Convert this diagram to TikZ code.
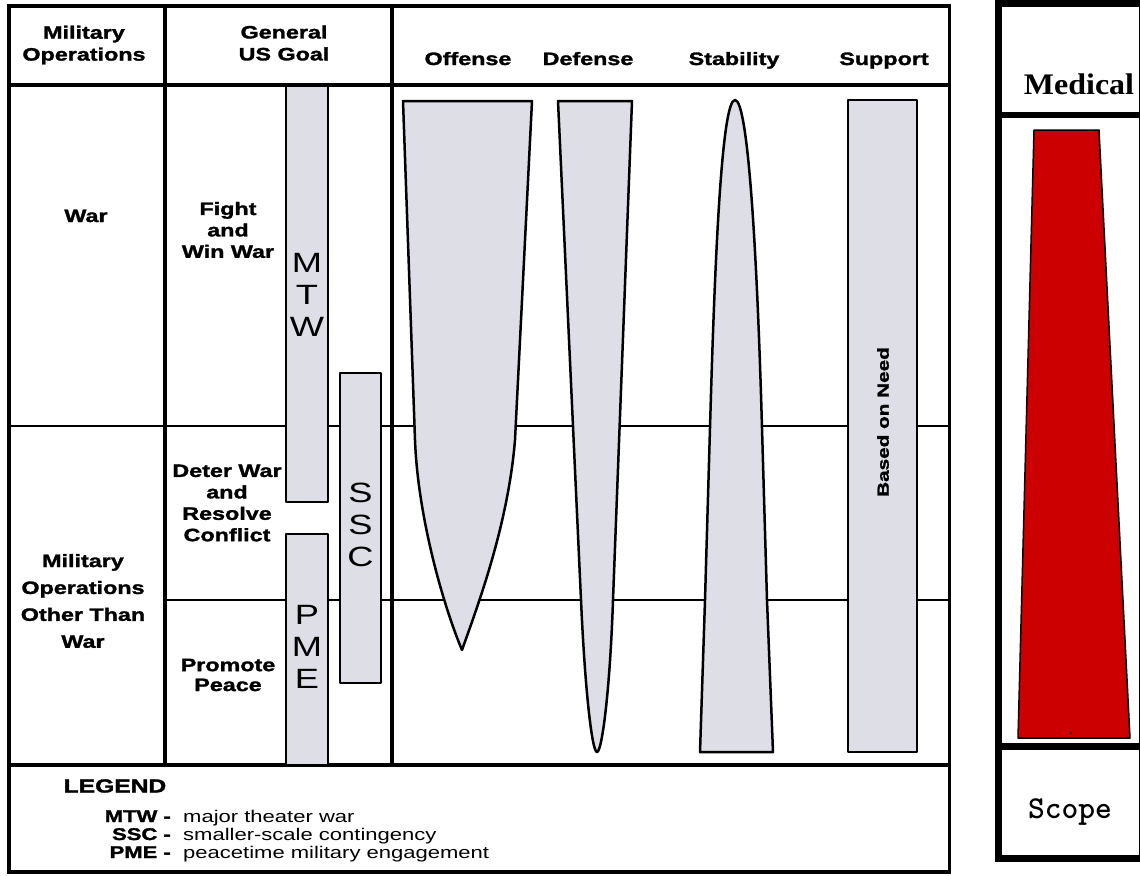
\documentclass[tikz,border=0pt]{standalone}
\usepackage{fontspec}
\newfontfamily\hv[FakeStretch=1.3, BoldFeatures={FakeBold=1.6}]{Liberation Sans}
\newfontfamily\tmfnt[FakeStretch=1.07]{Liberation Serif}
\definecolor{boxgray}{RGB}{221,222,230}
\definecolor{medred}{RGB}{204,0,0}
\begin{document}
\begin{tikzpicture}[x=1bp,y=-1bp,
  outerframe/.style={line width=3.5bp},
  gridline/.style={line width=2bp},
  thickrule/.style={line width=7bp},
  grayshape/.style={fill=boxgray, draw=black, line width=2.5bp, line join=round},
  lbl/.style={font=\hv\bfseries\fontsize{18}{21.5}\selectfont, align=center, inner sep=0pt},
  hdr/.style={font=\hv\bfseries\fontsize{18}{22}\selectfont, align=center, inner sep=0pt},
  letters/.style={font=\hv\fontsize{28}{32}\selectfont, align=center, inner sep=0pt},
  legkey/.style={font=\hv\bfseries\fontsize{17}{18}\selectfont, inner sep=0pt, anchor=base east},
  legtxt/.style={font=\hv\fontsize{17}{18}\selectfont, inner sep=0pt, anchor=base west}
]
\useasboundingbox (0,0) rectangle (1140,876);
\fill[white] (0,0) rectangle (1140,876);

% ---------- left chart: horizontal grid lines ----------
\draw[gridline] (9,426) -- (949,426);
\draw[gridline] (165,600) -- (949,600);

% ---------- frame and dividers ----------
\draw[outerframe] (9,6) rectangle (949.5,872);
\draw[outerframe] (9,85) -- (949.5,85);
\draw[outerframe] (9,765) -- (949.5,765);
\draw[outerframe] (165,6) -- (165,765);
\draw[line width=4.5bp] (392,6) -- (392,765);

% ---------- goal bars ----------
\draw[grayshape] (286,86) rectangle (328,502);
\draw[grayshape] (340,373) rectangle (381,683);
\draw[grayshape] (286,534) rectangle (328,765);

% ---------- operation shapes ----------
% Offense
\draw[grayshape] (403,101) -- (532,101) -- (515,440)
  .. controls (508,525) and (478,605) .. (462,650)
  .. controls (445,610) and (418,520) .. (415,440) -- cycle;
% Defense
\draw[grayshape] (558,101) -- (632,101) -- (613,600)
  .. controls (610,690) and (602,752) .. (597,752)
  .. controls (592,752) and (585,690) .. (581,600) -- cycle;
% Stability
\draw[grayshape] (700,752) -- (705,600) -- (710,428)
  .. controls (715,250) and (722,100) .. (735,100)
  .. controls (748,100) and (757,250) .. (762,428)
  -- (767,600) -- (773,752) -- cycle;
% Support
\draw[grayshape] (848,100) rectangle (917,752);

% ---------- texts ----------
\node[hdr] (hmo) at (84,45) {Military\\Operations};
\node[hdr] (hgoal) at (284,43) {General\\US Goal};
\node[lbl, anchor=base] (hoff) at (468,65) {Offense};
\node[lbl, anchor=base] (hdef) at (588,65) {Defense};
\node[lbl, anchor=base] (hstab) at (734,65) {Stability};
\node[lbl, anchor=base] (hsup) at (884,65) {Support};

\node[lbl, anchor=base] (war) at (86,222) {War};
\node[lbl, font=\hv\bfseries\fontsize{18}{27}\selectfont] (mootw) at (83,601) {Military\\Operations\\Other Than\\War};
\node[lbl] (fight) at (228,230) {Fight\\and\\Win War};
\node[lbl] (deter) at (227,503) {Deter War\\and\\Resolve\\Conflict};
\node[lbl, font=\hv\bfseries\fontsize{18}{20}\selectfont] (promote) at (228,675) {Promote\\Peace};

\node[letters] (mtw) at (307,295) {M\\T\\W};
\node[letters] (ssc) at (360.5,525) {S\\S\\C};
\node[letters] (pme) at (307,647) {P\\M\\E};

\node[lbl, font=\hv\bfseries\fontsize{16}{18}\selectfont, rotate=90] (need) at (883,422) {Based on Need};

% ---------- legend ----------
\node[lbl, font=\hv\bfseries\fontsize{19}{20}\selectfont] (legend) at (115,786) {LEGEND};
\node[legkey] (kmtw) at (171,822) {MTW -};
\node[legtxt] (dmtw) at (183,822) {major theater war};
\node[legkey] (kssc) at (171,840) {SSC -};
\node[legtxt] (dssc) at (183,840) {smaller-scale contingency};
\node[legkey] (kpme) at (171,858) {PME -};
\node[legtxt] (dpme) at (183,858) {peacetime military engagement};

% ---------- right panel ----------
\draw[fill=medred, draw=black, line width=1.5bp, line join=round]
  (1034,130) -- (1099,130) -- (1130,738) -- (1018,738) -- cycle;
\fill (1071,733) circle (1bp);
\draw[thickrule] (998.5,0) -- (998.5,862);
\draw[thickrule] (995,3.5) -- (1140,3.5);
\draw[line width=6bp] (995,115) -- (1140,115);
\draw[thickrule] (995,746.5) -- (1140,746.5);
\draw[thickrule] (995,858.5) -- (1140,858.5);
\draw[line width=2bp] (1139.5,0) -- (1139.5,862);

\node[inner sep=0pt, font=\tmfnt\bfseries\fontsize{30}{32}\selectfont, anchor=base] (medical) at (1079,94) {Medical};
\node[inner sep=0pt, font=\fontsize{32}{34}\ttfamily\bfseries\selectfont, anchor=base] (scope) at (1070,818) {Scope};
\end{tikzpicture}
\end{document}
